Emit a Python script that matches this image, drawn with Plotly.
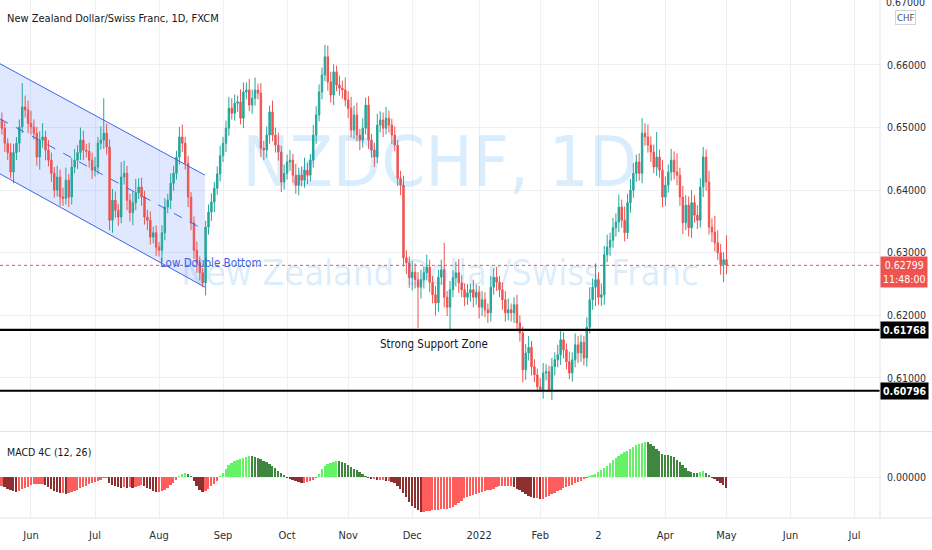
import numpy as np
import pandas as pd
import plotly.graph_objects as go

# ---------------- data ----------------
START = "2021-05-18"
first_open = 0.6512
close = [
    0.6499, 0.6475, 0.6460, 0.6429, 0.6460, 0.6475, 0.6501, 0.6533, 0.6528, 0.6507,
    0.6501, 0.6491, 0.6453, 0.6480, 0.6485, 0.6464, 0.6448, 0.6427, 0.6400, 0.6421,
    0.6389, 0.6387, 0.6416, 0.6389, 0.6437, 0.6448, 0.6460, 0.6480, 0.6464, 0.6462,
    0.6448, 0.6432, 0.6437, 0.6475, 0.6480, 0.6491, 0.6469, 0.6352, 0.6384, 0.6368,
    0.6357, 0.6421, 0.6427, 0.6384, 0.6364, 0.6380, 0.6396, 0.6405, 0.6389, 0.6357,
    0.6352, 0.6325, 0.6332, 0.6309, 0.6304, 0.6332, 0.6373, 0.6384, 0.6411, 0.6427,
    0.6453, 0.6485, 0.6475, 0.6443, 0.6389, 0.6348, 0.6304, 0.6284, 0.6268, 0.6252,
    0.6341, 0.6365, 0.6381, 0.6403, 0.6426, 0.6455, 0.6475, 0.6499, 0.6531, 0.6523,
    0.6539, 0.6541, 0.6515, 0.6557, 0.6560, 0.6536, 0.6547, 0.6560, 0.6555, 0.6467,
    0.6464, 0.6488, 0.6525, 0.6488, 0.6472, 0.6461, 0.6413, 0.6427, 0.6445, 0.6448,
    0.6424, 0.6408, 0.6424, 0.6416, 0.6432, 0.6424, 0.6448, 0.6488, 0.6520, 0.6557,
    0.6584, 0.6613, 0.6573, 0.6552, 0.6589, 0.6568, 0.6563, 0.6560, 0.6544, 0.6531,
    0.6496, 0.6520, 0.6488, 0.6480, 0.6499, 0.6536, 0.6480, 0.6464, 0.6453, 0.6504,
    0.6512, 0.6499, 0.6515, 0.6504, 0.6488, 0.6472, 0.6419, 0.6408, 0.6292, 0.6284,
    0.6260, 0.6269, 0.6257, 0.6245, 0.6257, 0.6268, 0.6277, 0.6253, 0.6233, 0.6220,
    0.6261, 0.6273, 0.6229, 0.6213, 0.6241, 0.6260, 0.6268, 0.6252, 0.6241, 0.6229,
    0.6236, 0.6241, 0.6229, 0.6237, 0.6213, 0.6225, 0.6209, 0.6204, 0.6245, 0.6261,
    0.6253, 0.6241, 0.6225, 0.6204, 0.6209, 0.6204, 0.6217, 0.6188, 0.6172, 0.6113,
    0.6140, 0.6149, 0.6118, 0.6105, 0.6086, 0.6081, 0.6108, 0.6110, 0.6081, 0.6118,
    0.6129, 0.6137, 0.6161, 0.6145, 0.6126, 0.6108, 0.6129, 0.6153, 0.6140, 0.6157,
    0.6132, 0.6181, 0.6225, 0.6245, 0.6257, 0.6229, 0.6233, 0.6297, 0.6309, 0.6320,
    0.6340, 0.6349, 0.6373, 0.6352, 0.6332, 0.6380, 0.6400, 0.6427, 0.6445, 0.6427,
    0.6491, 0.6485, 0.6472, 0.6461, 0.6437, 0.6453, 0.6432, 0.6389, 0.6408, 0.6429,
    0.6448, 0.6429, 0.6424, 0.6389, 0.6348, 0.6376, 0.6340, 0.6380, 0.6360, 0.6352,
    0.6405, 0.6453, 0.6413, 0.6341, 0.6333, 0.6316, 0.6300, 0.6281, 0.6289, 0.62799,
]
# wick lengths beyond the candle body, in pips (0.0001)
wick_up = [
    12, 10, 8, 15, 14, 10, 12, 38, 18, 15,
    20, 12, 10, 14, 22, 10, 16, 12, 10, 18,
    12, 15, 20, 10, 14, 18, 12, 20, 15, 10,
    14, 12, 16, 10, 22, 56, 15, 12, 18, 14,
    10, 24, 20, 12, 10, 18, 22, 14, 15, 10,
    12, 14, 10, 12, 8, 12, 14, 10, 16, 12,
    10, 16, 20, 10, 12, 8, 10, 14, 10, 8,
    10, 12, 14, 10, 12, 16, 10, 12, 18, 16,
    14, 10, 20, 15, 12, 18, 14, 20, 10, 16,
    12, 14, 10, 18, 12, 20, 10, 14, 12, 16,
    10, 18, 12, 14, 20, 12, 10, 16, 14, 12,
    12, 19, 18, 16, 12, 10, 15, 12, 20, 14,
    18, 15, 20, 10, 16, 12, 14, 10, 12, 18,
    14, 12, 18, 12, 10, 14, 8, 12, 15, 12,
    10, 18, 14, 12, 16, 10, 20, 12, 10, 14,
    12, 16, 43, 10, 14, 12, 18, 22, 12, 10,
    14, 10, 16, 12, 10, 14, 12, 10, 18, 14,
    16, 10, 12, 14, 18, 10, 12, 16, 12, 10,
    14, 18, 10, 12, 10, 14, 16, 12, 10, 14,
    12, 16, 14, 12, 10, 16, 12, 18, 14, 12,
    10, 16, 20, 14, 26, 12, 18, 14, 20, 12,
    16, 14, 20, 12, 22, 14, 18, 16, 12, 14,
    24, 16, 20, 14, 12, 40, 12, 16, 14, 12,
    18, 14, 30, 12, 18, 16, 14, 20, 12, 16,
    14, 16, 12, 18, 14, 26, 20, 14, 12, 39,
]
wick_dn = [
    10, 14, 12, 10, 18, 12, 14, 10, 12, 16,
    12, 10, 14, 20, 12, 16, 10, 14, 12, 10,
    14, 12, 10, 16, 12, 10, 14, 12, 16, 10,
    12, 14, 10, 12, 10, 14, 12, 16, 20, 12,
    14, 10, 12, 16, 14, 20, 12, 10, 14, 12,
    16, 12, 10, 14, 10, 18, 12, 10, 14, 12,
    10, 12, 14, 10, 16, 12, 14, 16, 12, 7,
    20, 12, 14, 16, 10, 12, 10, 14, 12, 10,
    12, 14, 10, 16, 12, 10, 14, 12, 10, 14,
    16, 12, 14, 10, 12, 14, 16, 12, 10, 14,
    12, 14, 16, 10, 12, 14, 10, 12, 14, 10,
    12, 10, 14, 12, 16, 10, 12, 14, 10, 16,
    12, 14, 10, 16, 12, 10, 14, 12, 16, 10,
    12, 14, 10, 12, 14, 10, 12, 16, 14, 18,
    16, 20, 14, 65, 18, 14, 12, 16, 14, 20,
    14, 12, 16, 14, 36, 12, 14, 16, 12, 14,
    12, 14, 16, 12, 18, 14, 12, 16, 14, 12,
    14, 12, 16, 14, 12, 14, 16, 12, 14, 20,
    16, 12, 14, 12, 8, 3, 14, 12, 3, 16,
    14, 12, 16, 14, 12, 10, 14, 12, 16, 14,
    12, 14, 10, 16, 30, 12, 14, 16, 12, 14,
    12, 14, 16, 12, 14, 10, 16, 12, 14, 12,
    16, 14, 12, 16, 10, 14, 12, 16, 14, 12,
    14, 12, 16, 14, 18, 12, 14, 16, 12, 14,
    12, 16, 14, 12, 16, 14, 12, 16, 28, 14,
]
# MACD 4C (12, 26) histogram values, in pips
macd_pips = [
    -18, -20, -24, -26, -28, -30, -28, -24, -22, -20,
    -16, -14, -14, -14, -14, -16, -20, -24, -28, -30,
    -32, -32, -34, -32, -30, -28, -26, -22, -20, -18,
    -14, -12, -10, -8, -6, -2, -2, -12, -16, -18,
    -20, -21, -20, -21, -20, -21, -20, -18, -16, -18,
    -22, -24, -28, -30, -30, -28, -26, -22, -16, -12,
    -6, 2, 6, 8, 6, 2, -8, -18, -26, -30,
    -28, -24, -18, -14, -8, 2, 8, 16, 24, 28,
    32, 34, 36, 38, 40, 42, 42, 40, 38, 36,
    32, 30, 26, 22, 18, 12, 8, 4, -2, -4,
    -6, -8, -10, -12, -12, -10, -8, -6, -2, 6,
    16, 22, 26, 28, 30, 32, 32, 30, 28, 24,
    20, 16, 14, 10, 6, 2, -2, -4, -4, -6,
    -6, -6, -8, -8, -10, -12, -18, -24, -32, -40,
    -50, -58, -62, -66, -70, -70, -68, -68, -66, -66,
    -66, -64, -64, -64, -62, -60, -56, -52, -48, -42,
    -40, -38, -36, -34, -32, -30, -28, -26, -26, -24,
    -20, -18, -18, -18, -18, -18, -20, -24, -26, -30,
    -34, -38, -40, -42, -42, -44, -44, -40, -38, -34,
    -32, -28, -26, -22, -20, -18, -16, -12, -10, -8,
    -4, -2, 2, 4, 6, 10, 14, 18, 22, 28,
    34, 38, 42, 46, 50, 52, 56, 60, 64, 66,
    68, 70, 70, 66, 62, 56, 52, 46, 44, 44,
    42, 40, 34, 30, 24, 18, 12, 10, 8, 8,
    10, 12, 8, 4, -2, -4, -8, -12, -16, -22,
]
month_starts = ["2021-06-01", "2021-07-01", "2021-08-01", "2021-09-01", "2021-10-01",
                "2021-11-01", "2021-12-01", "2022-01-01", "2022-02-01", "2022-03-01",
                "2022-04-01", "2022-05-01", "2022-06-01", "2022-07-01"]
month_labels = ["Jun", "Jul", "Aug", "Sep", "Oct", "Nov", "Dec", "2022", "Feb", "2",
                "Apr", "May", "Jun", "Jul"]
price_ticks = [0.60, 0.61, 0.62, 0.63, 0.64, 0.65, 0.66]
edge_tick = 0.67

last_price = 0.62799
countdown = "11:48:00"
support_levels = [0.61768, 0.60796]
# descending channel drawing anchors (bar position, price)
chan_x = [-0.65, 69.8]
chan_upper = [0.6602, 0.6424]
chan_mid = [0.6514, 0.6336]
chan_lower = [0.6426, 0.6245]
note_low = ("Low Double Bottom", 53.6, 0.6283)
note_zone = ("Strong Support Zone", 129.3, 0.6155)

# ---------------- derived ----------------
n = len(close)
all_days = pd.bdate_range(START, "2022-07-29")
dates = all_days[:n]
xpos = np.arange(n)
c = np.array(close)
o = np.array([first_open] + close[:-1])
h = np.maximum(o, c) + np.array(wick_up) * 1e-4
l = np.minimum(o, c) - np.array(wick_dn) * 1e-4
macd = np.array(macd_pips) * 1e-4
tick_pos = [int(all_days.searchsorted(pd.Timestamp(m))) for m in month_starts]

mcol = []
for i, v in enumerate(macd):
    p = macd[i - 1] if i > 0 else v
    if v > 0:
        mcol.append("#66f266" if v > p else "#3f873f")
    else:
        mcol.append("#8c2f2f" if v < p else "#ff5c5c")

# ---------------- layout constants ----------------
W, H = 932, 550
PLOT_R = 880
PLOT_H = 518
X_RANGE = [-0.65, 301.75]
Y_RANGE = [0.60153, 0.67038]
M_RANGE = [-0.0082, 0.0090]
FONT = '"Liberation Sans Narrow", "DejaVu Sans Condensed", "Liberation Sans", Arial, sans-serif'
TXT = "#131722"
GRID = "#eef0f4"
BORDER = "#e0e3eb"

fig = go.Figure()

# watermark (behind candles)
xm = (X_RANGE[0] + X_RANGE[1]) / 2
fig.add_trace(go.Scatter(
    x=[xm, xm],
    y=[Y_RANGE[1] - 168 / 431 * (Y_RANGE[1] - Y_RANGE[0]),
       Y_RANGE[1] - 276 / 431 * (Y_RANGE[1] - Y_RANGE[0])],
    mode="text", text=["NZDCHF, 1D", "New Zealand Dollar/Swiss Franc"],
    textfont=dict(family=FONT, size=[70, 36], color="rgba(33,150,243,0.17)"),
    hoverinfo="skip", xaxis="x", yaxis="y"))

fig.add_trace(go.Candlestick(
    x=xpos, open=o, high=h, low=l, close=c,
    increasing=dict(line=dict(color="#26a69a", width=1), fillcolor="#26a69a"),
    decreasing=dict(line=dict(color="#ef5350", width=1), fillcolor="#ef5350"),
    whiskerwidth=0, hoverinfo="skip", xaxis="x", yaxis="y"))

fig.add_trace(go.Bar(
    x=xpos, y=macd, marker=dict(color=mcol, line=dict(width=0)),
    width=0.62, hoverinfo="skip", xaxis="x2", yaxis="y2"))

shapes = []
shapes.append(dict(type="path", xref="x", yref="y", layer="between",
                   path=f"M {chan_x[0]},{chan_upper[0]} L {chan_x[1]},{chan_upper[1]} "
                        f"L {chan_x[1]},{chan_lower[1]} L {chan_x[0]},{chan_lower[0]} Z",
                   fillcolor="rgba(41,98,255,0.15)", line=dict(width=0)))
for ys, dash in [(chan_upper, "solid"), (chan_lower, "solid"), (chan_mid, "dash")]:
    shapes.append(dict(type="line", xref="x", yref="y", x0=chan_x[0], x1=chan_x[1],
                       y0=ys[0], y1=ys[1], line=dict(color="#3d66e6", width=1, dash=dash)))
shapes.append(dict(type="line", xref="paper", yref="y", x0=0, x1=1, y0=last_price, y1=last_price,
                   line=dict(color="#ef5350", width=1, dash="dot")))
for lv in support_levels:
    shapes.append(dict(type="line", xref="paper", yref="y", x0=0, x1=1, y0=lv, y1=lv,
                       line=dict(color="#000000", width=2.2)))
shapes.append(dict(type="line", xref="paper", yref="paper", x0=1, x1=1, y0=0, y1=1,
                   line=dict(color=BORDER, width=1)))
for yy in [(PLOT_H - 431.5) / PLOT_H, 0]:
    shapes.append(dict(type="line", xref="paper", yref="paper", x0=0, x1=W / PLOT_R, y0=yy, y1=yy,
                       line=dict(color=BORDER, width=1)))

tf = dict(family=FONT, size=10.5, color="#2a2e39")
ann = []
ann.append(dict(text=f"{edge_tick:.5f}", xref="paper", yref="y", x=1, y=edge_tick,
                xanchor="left", yanchor="middle", xshift=4, showarrow=False, font=tf))
ann.append(dict(text="New Zealand Dollar/Swiss Franc, 1D, FXCM", xref="paper", yref="paper",
                x=0, y=1 - 18 / PLOT_H, xanchor="left", yanchor="middle", xshift=5,
                showarrow=False, font=dict(family=FONT, size=11, color=TXT)))
ann.append(dict(text="MACD 4C (12, 26)", xref="paper", yref="paper",
                x=0, y=1 - 452 / PLOT_H, xanchor="left", yanchor="middle", xshift=5,
                showarrow=False, font=dict(family=FONT, size=10.5, color=TXT)))
ann.append(dict(text=note_low[0], x=note_low[1], y=note_low[2], xref="x", yref="y",
                xanchor="left", yanchor="middle", showarrow=False,
                font=dict(family=FONT, size=11.5, color="#3d66e6")))
ann.append(dict(text=note_zone[0], x=note_zone[1], y=note_zone[2], xref="x", yref="y",
                xanchor="left", yanchor="middle", showarrow=False,
                font=dict(family=FONT, size=11.5, color=TXT)))
ann.append(dict(text=f"{last_price:.5f}<br>{countdown}", xref="paper", yref="y",
                x=1, y=last_price, xanchor="left", yanchor="top", yshift=9,
                showarrow=False, bgcolor="#ef5350", borderpad=2, align="center",
                font=dict(family=FONT, size=10.5, color="#ffffff")))
for lv in support_levels:
    ann.append(dict(text=f"<b>{lv:.5f}</b>", xref="paper", yref="y", x=1, y=lv,
                    xanchor="left", yanchor="middle", showarrow=False,
                    bgcolor="#000000", borderpad=2,
                    font=dict(family=FONT, size=10.5, color="#ffffff")))
ann.append(dict(text="CHF", xref="paper", yref="paper", x=1, y=1 - 17 / PLOT_H,
                xanchor="center", yanchor="middle", xshift=25, showarrow=False,
                bordercolor="#d1d4dc", borderwidth=1, borderpad=1, bgcolor="#ffffff",
                font=dict(family=FONT, size=9.5, color="#4a4e59")))

main_bottom = (PLOT_H - 431) / PLOT_H
macd_top = (PLOT_H - 432) / PLOT_H

fig.update_layout(
    width=W, height=H, margin=dict(l=0, r=W - PLOT_R, t=0, b=H - PLOT_H, autoexpand=False),
    paper_bgcolor="#ffffff", plot_bgcolor="#ffffff", showlegend=False,
    hovermode=False, bargap=0,
    font=dict(family=FONT, color=TXT),
    xaxis=dict(domain=[0, 1], anchor="y", range=X_RANGE, tickvals=tick_pos,
               ticktext=month_labels, showticklabels=False, showgrid=True, gridcolor=GRID,
               zeroline=False, rangeslider=dict(visible=False), showline=False, ticks="",
               automargin=False),
    yaxis=dict(domain=[main_bottom, 1], anchor="x", side="right", range=Y_RANGE,
               tickvals=price_ticks, tickformat=".5f", showgrid=True, gridcolor=GRID,
               zeroline=False, ticks="", ticklabelstandoff=6, tickfont=tf, automargin=False),
    xaxis2=dict(domain=[0, 1], anchor="y2", matches="x", range=X_RANGE, tickvals=tick_pos,
                ticktext=month_labels, showgrid=True, gridcolor=GRID, zeroline=False,
                showline=False, ticks="", ticklabelstandoff=9,
                tickfont=dict(family=FONT, size=11, color="#2a2e39"), automargin=False),
    yaxis2=dict(domain=[0, macd_top], anchor="x2", side="right", range=M_RANGE,
                tickvals=[0], ticktext=["0.00000"], showgrid=True, gridcolor=GRID,
                zeroline=False, ticks="", ticklabelstandoff=6, tickfont=tf, automargin=False),
    shapes=shapes, annotations=ann,
)

fig.write_html("out.html", config={"displayModeBar": False},
               post_script="document.body.style.margin='0';document.body.style.padding='0';")
